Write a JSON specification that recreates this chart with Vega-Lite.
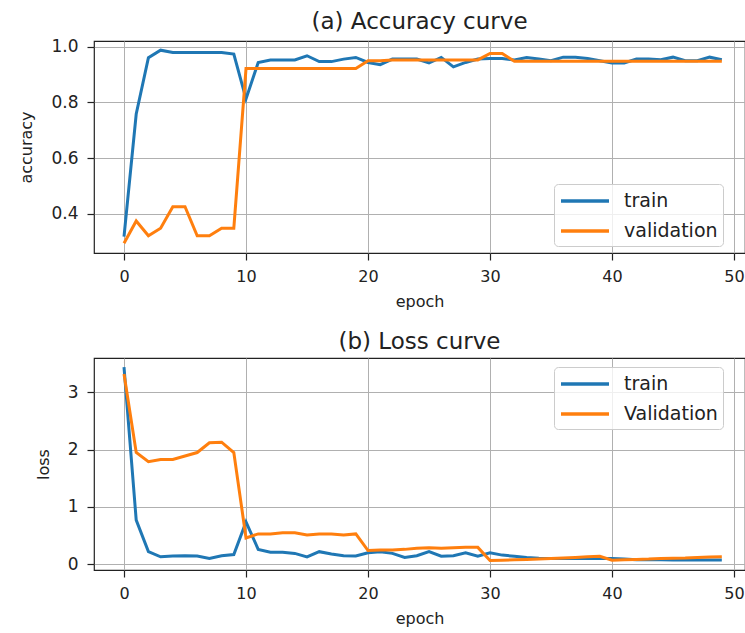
{
  "$schema": "https://vega.github.io/schema/vega-lite/v6.json",
  "background": "white",
  "padding": {"left": 18, "top": 9, "right": 0, "bottom": 0},
  "spacing": 20,
  "datasets": {
    "acc": [
      {"epoch":0,"series":"train","value":0.318},{"epoch":1,"series":"train","value":0.758},{"epoch":2,"series":"train","value":0.96},{"epoch":3,"series":"train","value":0.987},{"epoch":4,"series":"train","value":0.979},
      {"epoch":5,"series":"train","value":0.979},{"epoch":6,"series":"train","value":0.979},{"epoch":7,"series":"train","value":0.979},{"epoch":8,"series":"train","value":0.979},{"epoch":9,"series":"train","value":0.973},
      {"epoch":10,"series":"train","value":0.812},{"epoch":11,"series":"train","value":0.943},{"epoch":12,"series":"train","value":0.952},{"epoch":13,"series":"train","value":0.952},{"epoch":14,"series":"train","value":0.952},
      {"epoch":15,"series":"train","value":0.967},{"epoch":16,"series":"train","value":0.946},{"epoch":17,"series":"train","value":0.946},{"epoch":18,"series":"train","value":0.955},{"epoch":19,"series":"train","value":0.961},
      {"epoch":20,"series":"train","value":0.943},{"epoch":21,"series":"train","value":0.935},{"epoch":22,"series":"train","value":0.955},{"epoch":23,"series":"train","value":0.955},{"epoch":24,"series":"train","value":0.955},
      {"epoch":25,"series":"train","value":0.941},{"epoch":26,"series":"train","value":0.961},{"epoch":27,"series":"train","value":0.927},{"epoch":28,"series":"train","value":0.943},{"epoch":29,"series":"train","value":0.955},
      {"epoch":30,"series":"train","value":0.957},{"epoch":31,"series":"train","value":0.957},{"epoch":32,"series":"train","value":0.952},{"epoch":33,"series":"train","value":0.961},{"epoch":34,"series":"train","value":0.955},
      {"epoch":35,"series":"train","value":0.949},{"epoch":36,"series":"train","value":0.962},{"epoch":37,"series":"train","value":0.962},{"epoch":38,"series":"train","value":0.957},{"epoch":39,"series":"train","value":0.949},
      {"epoch":40,"series":"train","value":0.941},{"epoch":41,"series":"train","value":0.941},{"epoch":42,"series":"train","value":0.955},{"epoch":43,"series":"train","value":0.955},{"epoch":44,"series":"train","value":0.953},
      {"epoch":45,"series":"train","value":0.962},{"epoch":46,"series":"train","value":0.949},{"epoch":47,"series":"train","value":0.949},{"epoch":48,"series":"train","value":0.962},{"epoch":49,"series":"train","value":0.953},
      {"epoch":0,"series":"validation","value":0.294},{"epoch":1,"series":"validation","value":0.374},{"epoch":2,"series":"validation","value":0.321},{"epoch":3,"series":"validation","value":0.348},{"epoch":4,"series":"validation","value":0.425},
      {"epoch":5,"series":"validation","value":0.425},{"epoch":6,"series":"validation","value":0.321},{"epoch":7,"series":"validation","value":0.321},{"epoch":8,"series":"validation","value":0.348},{"epoch":9,"series":"validation","value":0.348},
      {"epoch":10,"series":"validation","value":0.921},{"epoch":11,"series":"validation","value":0.921},{"epoch":12,"series":"validation","value":0.921},{"epoch":13,"series":"validation","value":0.921},{"epoch":14,"series":"validation","value":0.921},
      {"epoch":15,"series":"validation","value":0.921},{"epoch":16,"series":"validation","value":0.921},{"epoch":17,"series":"validation","value":0.921},{"epoch":18,"series":"validation","value":0.921},{"epoch":19,"series":"validation","value":0.921},
      {"epoch":20,"series":"validation","value":0.949},{"epoch":21,"series":"validation","value":0.949},{"epoch":22,"series":"validation","value":0.952},{"epoch":23,"series":"validation","value":0.952},{"epoch":24,"series":"validation","value":0.952},
      {"epoch":25,"series":"validation","value":0.952},{"epoch":26,"series":"validation","value":0.952},{"epoch":27,"series":"validation","value":0.952},{"epoch":28,"series":"validation","value":0.952},{"epoch":29,"series":"validation","value":0.952},
      {"epoch":30,"series":"validation","value":0.975},{"epoch":31,"series":"validation","value":0.975},{"epoch":32,"series":"validation","value":0.947},{"epoch":33,"series":"validation","value":0.947},{"epoch":34,"series":"validation","value":0.947},
      {"epoch":35,"series":"validation","value":0.947},{"epoch":36,"series":"validation","value":0.947},{"epoch":37,"series":"validation","value":0.947},{"epoch":38,"series":"validation","value":0.947},{"epoch":39,"series":"validation","value":0.947},
      {"epoch":40,"series":"validation","value":0.947},{"epoch":41,"series":"validation","value":0.947},{"epoch":42,"series":"validation","value":0.947},{"epoch":43,"series":"validation","value":0.947},{"epoch":44,"series":"validation","value":0.947},
      {"epoch":45,"series":"validation","value":0.947},{"epoch":46,"series":"validation","value":0.947},{"epoch":47,"series":"validation","value":0.947},{"epoch":48,"series":"validation","value":0.947},{"epoch":49,"series":"validation","value":0.947}
    ],
    "loss": [
      {"epoch":0,"series":"train","value":3.44},{"epoch":1,"series":"train","value":0.77},{"epoch":2,"series":"train","value":0.22},{"epoch":3,"series":"train","value":0.13},{"epoch":4,"series":"train","value":0.145},
      {"epoch":5,"series":"train","value":0.15},{"epoch":6,"series":"train","value":0.145},{"epoch":7,"series":"train","value":0.1},{"epoch":8,"series":"train","value":0.15},{"epoch":9,"series":"train","value":0.17},
      {"epoch":10,"series":"train","value":0.74},{"epoch":11,"series":"train","value":0.26},{"epoch":12,"series":"train","value":0.21},{"epoch":13,"series":"train","value":0.21},{"epoch":14,"series":"train","value":0.19},
      {"epoch":15,"series":"train","value":0.13},{"epoch":16,"series":"train","value":0.22},{"epoch":17,"series":"train","value":0.18},{"epoch":18,"series":"train","value":0.15},{"epoch":19,"series":"train","value":0.145},
      {"epoch":20,"series":"train","value":0.2},{"epoch":21,"series":"train","value":0.22},{"epoch":22,"series":"train","value":0.19},{"epoch":23,"series":"train","value":0.12},{"epoch":24,"series":"train","value":0.15},
      {"epoch":25,"series":"train","value":0.22},{"epoch":26,"series":"train","value":0.14},{"epoch":27,"series":"train","value":0.15},{"epoch":28,"series":"train","value":0.2},{"epoch":29,"series":"train","value":0.14},
      {"epoch":30,"series":"train","value":0.2},{"epoch":31,"series":"train","value":0.16},{"epoch":32,"series":"train","value":0.14},{"epoch":33,"series":"train","value":0.12},{"epoch":34,"series":"train","value":0.105},
      {"epoch":35,"series":"train","value":0.1},{"epoch":36,"series":"train","value":0.1},{"epoch":37,"series":"train","value":0.1},{"epoch":38,"series":"train","value":0.1},{"epoch":39,"series":"train","value":0.1},
      {"epoch":40,"series":"train","value":0.1},{"epoch":41,"series":"train","value":0.09},{"epoch":42,"series":"train","value":0.08},{"epoch":43,"series":"train","value":0.08},{"epoch":44,"series":"train","value":0.078},
      {"epoch":45,"series":"train","value":0.075},{"epoch":46,"series":"train","value":0.075},{"epoch":47,"series":"train","value":0.075},{"epoch":48,"series":"train","value":0.075},{"epoch":49,"series":"train","value":0.075},
      {"epoch":0,"series":"Validation","value":3.32},{"epoch":1,"series":"Validation","value":1.95},{"epoch":2,"series":"Validation","value":1.79},{"epoch":3,"series":"Validation","value":1.83},{"epoch":4,"series":"Validation","value":1.83},
      {"epoch":5,"series":"Validation","value":1.89},{"epoch":6,"series":"Validation","value":1.95},{"epoch":7,"series":"Validation","value":2.12},{"epoch":8,"series":"Validation","value":2.13},{"epoch":9,"series":"Validation","value":1.95},
      {"epoch":10,"series":"Validation","value":0.46},{"epoch":11,"series":"Validation","value":0.53},{"epoch":12,"series":"Validation","value":0.53},{"epoch":13,"series":"Validation","value":0.55},{"epoch":14,"series":"Validation","value":0.55},
      {"epoch":15,"series":"Validation","value":0.51},{"epoch":16,"series":"Validation","value":0.53},{"epoch":17,"series":"Validation","value":0.53},{"epoch":18,"series":"Validation","value":0.51},{"epoch":19,"series":"Validation","value":0.53},
      {"epoch":20,"series":"Validation","value":0.24},{"epoch":21,"series":"Validation","value":0.25},{"epoch":22,"series":"Validation","value":0.25},{"epoch":23,"series":"Validation","value":0.26},{"epoch":24,"series":"Validation","value":0.28},
      {"epoch":25,"series":"Validation","value":0.29},{"epoch":26,"series":"Validation","value":0.28},{"epoch":27,"series":"Validation","value":0.29},{"epoch":28,"series":"Validation","value":0.295},{"epoch":29,"series":"Validation","value":0.295},
      {"epoch":30,"series":"Validation","value":0.064},{"epoch":31,"series":"Validation","value":0.07},{"epoch":32,"series":"Validation","value":0.078},{"epoch":33,"series":"Validation","value":0.085},{"epoch":34,"series":"Validation","value":0.092},
      {"epoch":35,"series":"Validation","value":0.1},{"epoch":36,"series":"Validation","value":0.11},{"epoch":37,"series":"Validation","value":0.12},{"epoch":38,"series":"Validation","value":0.13},{"epoch":39,"series":"Validation","value":0.14},
      {"epoch":40,"series":"Validation","value":0.07},{"epoch":41,"series":"Validation","value":0.08},{"epoch":42,"series":"Validation","value":0.085},{"epoch":43,"series":"Validation","value":0.09},{"epoch":44,"series":"Validation","value":0.1},
      {"epoch":45,"series":"Validation","value":0.105},{"epoch":46,"series":"Validation","value":0.11},{"epoch":47,"series":"Validation","value":0.12},{"epoch":48,"series":"Validation","value":0.125},{"epoch":49,"series":"Validation","value":0.13}
    ]
  },
  "config": {
    "font": "DejaVu Sans",
    "view": {"stroke": "#222222", "strokeWidth": 1.2},
    "axis": {
      "domain": false, "grid": true, "gridColor": "#b0b0b0", "gridWidth": 1,
      "tickColor": "#222222", "tickSize": 7, "tickWidth": 1.2,
      "labelFont": "DejaVu Sans", "labelFontSize": 16, "labelColor": "#222222", "labelPadding": 5,
      "titleFont": "DejaVu Sans", "titleFontSize": 16, "titleFontWeight": "normal", "titleColor": "#222222"
    },
    "axisY": {"labelFontSize": 17, "labelPadding": 9, "titlePadding": 16},
    "axisX": {"labelPadding": 8, "titlePadding": 9},
    "title": {"font": "DejaVu Sans", "fontSize": 23, "fontWeight": "normal", "color": "#222222", "offset": 4},
    "legend": {
      "labelFont": "DejaVu Sans", "labelFontSize": 19, "labelColor": "#222222",
      "padding": 5, "rowPadding": 8, "labelOffset": 41,
      "strokeColor": "#cccccc", "fillColor": "rgba(255,255,255,0.8)", "cornerRadius": 4
    }
  },
  "resolve": {"scale": {"color": "independent"}, "legend": {"color": "independent"}},
  "vconcat": [
    {
      "title": "(a) Accuracy curve",
      "width": 651,
      "height": 212,
      "data": {"name": "acc"},
      "mark": {"type": "line", "strokeWidth": 3, "clip": true},
      "encoding": {
        "x": {"field": "epoch", "type": "quantitative", "scale": {"domain": [-2.46, 50.9], "nice": false, "zero": false},
              "axis": {"values": [0, 10, 20, 30, 40, 50], "title": "epoch"}},
        "y": {"field": "value", "type": "quantitative", "scale": {"domain": [0.259, 1.02], "nice": false, "zero": false},
              "axis": {"values": [0.4, 0.6, 0.8, 1.0], "format": ".1f", "title": "accuracy"}},
        "color": {"field": "series", "type": "nominal",
                  "scale": {"domain": ["train", "validation"], "range": ["#1f77b4", "#ff7f0e"]},
                  "legend": {"title": null, "orient": "none", "legendX": 460, "legendY": 143,
                             "symbolType": "M-1,0H3.8", "symbolSize": 400, "symbolStrokeWidth": 3.5}}
      }
    },
    {
      "title": "(b) Loss curve",
      "width": 651,
      "height": 212,
      "data": {"name": "loss"},
      "mark": {"type": "line", "strokeWidth": 3, "clip": true},
      "encoding": {
        "x": {"field": "epoch", "type": "quantitative", "scale": {"domain": [-2.46, 50.9], "nice": false, "zero": false},
              "axis": {"values": [0, 10, 20, 30, 40, 50], "title": "epoch"}},
        "y": {"field": "value", "type": "quantitative", "scale": {"domain": [-0.1, 3.6], "nice": false, "zero": false},
              "axis": {"values": [0, 1, 2, 3], "format": "d", "title": "loss"}},
        "color": {"field": "series", "type": "nominal",
                  "scale": {"domain": ["train", "Validation"], "range": ["#1f77b4", "#ff7f0e"]},
                  "legend": {"title": null, "orient": "none", "legendX": 460, "legendY": 9,
                             "symbolType": "M-1,0H3.8", "symbolSize": 400, "symbolStrokeWidth": 3.5}}
      }
    }
  ]
}
